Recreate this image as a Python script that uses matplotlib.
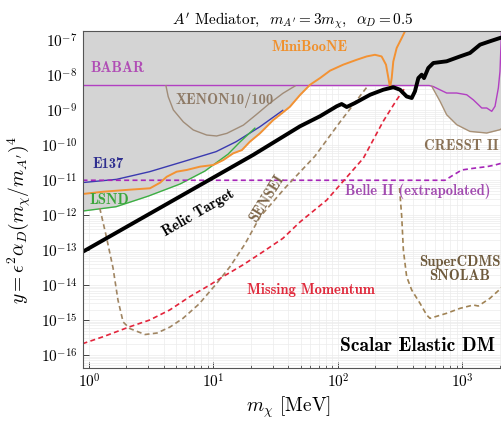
import numpy as np
import matplotlib
matplotlib.use('Agg')
import matplotlib.pyplot as plt
from matplotlib.ticker import LogLocator, NullFormatter

plt.rcParams['font.family'] = 'serif'
plt.rcParams['font.serif'] = ['cmr10']
plt.rcParams['mathtext.fontset'] = 'cm'
plt.rcParams['axes.formatter.use_mathtext'] = True

# --- curves (m_chi in MeV, y) ---
relic_m = [0.887, 20.8, 49.5, 71.7, 97.6, 107, 117.5, 137, 181, 231, 278, 315, 356, 391,
           415, 442, 470, 491, 531, 583, 746, 955, 1149, 1383, 1662, 2000, 2115]
relic_y = [8.9e-14, 5.3e-11, 3.5e-10, 6.8e-10, 1.31e-9, 1.52e-9, 1.25e-9, 1.63e-9, 2.8e-9,
           3.9e-9, 4.6e-9, 3.9e-9, 2.5e-9, 2.26e-9, 3.5e-9, 8.4e-9, 1.05e-8, 8.4e-9, 1.63e-8,
           2.27e-8, 2.54e-8, 3.5e-8, 4.4e-8, 7.6e-8, 9.5e-8, 1.18e-7, 1.25e-7]

babar_m = [0.887, 540, 583, 746, 898, 1081, 1222, 1340, 1428, 1566, 1718, 1825, 1941, 2000, 2060]
babar_y = [5.15e-9, 5.15e-9, 4.8e-9, 3.14e-9, 3.14e-9, 2.8e-9, 2.0e-9, 1.46e-9, 1.17e-9,
           1.17e-9, 9.4e-10, 1.31e-9, 4.4e-9, 1.3e-8, 2e-7]

miniboone_m = [0.889, 1.30, 2.01, 3.09, 3.72, 4.21, 5.06, 6.09, 7.79, 9.96, 12.0, 14.4, 16.9,
               19.6, 23.6, 30.2, 35.3, 41.1, 49.5, 59.6, 71.7, 86.3, 110, 141, 170, 198, 224,
               243, 254, 262, 270, 278, 296, 325, 356]
miniboone_y = [4.05e-12, 4.7e-12, 5.3e-12, 5.9e-12, 8.5e-12, 1.26e-11, 1.76e-11, 1.97e-11,
               2.45e-11, 2.74e-11, 3.8e-11, 5.9e-11, 7.3e-11, 1.27e-10, 2.2e-10, 5.3e-10,
               8.2e-10, 1.27e-9, 2.75e-9, 5.4e-9, 8.4e-9, 1.37e-8, 2.03e-8, 2.8e-8, 3.5e-8,
               3.9e-8, 3.5e-8, 2.03e-8, 8.4e-9, 4.4e-9, 8.4e-9, 2.5e-8, 6.1e-8, 1.18e-7, 2.3e-7]

e137_m = [0.889, 1.66, 3.07, 5.69, 10.5, 15.2, 23.6, 36.0]
e137_y = [8.6e-12, 1.06e-11, 1.76e-11, 3.4e-11, 6.6e-11, 1.27e-10, 3.4e-10, 1.0e-9]

lsnd_m = [0.895, 1.65, 2.98, 5.38, 8.54, 13.1, 16.3, 21.5]
lsnd_y = [1.32e-12, 1.75e-12, 3.5e-12, 7.8e-12, 1.84e-11, 5.6e-11, 1.24e-10, 3.1e-10]

xenon_m = [4.15, 4.33, 4.76, 5.72, 6.88, 8.82, 10.6, 12.8, 17.4, 21.9, 28.5, 36.2, 45.2]
xenon_y = [5.1e-9, 2.46e-9, 1.03e-9, 4.7e-10, 2.75e-10, 1.97e-10, 1.85e-10, 2.2e-10,
           3.8e-10, 7.4e-10, 1.63e-9, 3.1e-9, 5.0e-9]

cresst_m = [566, 660, 746, 898, 1148, 1564, 2000, 2115]
cresst_y = [4.9e-9, 1.82e-9, 7.5e-10, 3.9e-10, 2.5e-10, 2.25e-10, 2.8e-10, 3.2e-10]

belle_m = [0.887, 723, 819, 986, 1222, 1566, 1825, 2038, 2115]
belle_y = [1.0e-11, 1.0e-11, 1.32e-11, 1.97e-11, 2.2e-11, 2.45e-11, 2.73e-11, 3.05e-11, 3.1e-11]

sensei_m = [1.22, 1.37, 1.56, 1.71, 1.88, 2.13, 2.82, 3.52, 4.47, 5.69, 7.65, 10.5, 13.6,
            17.9, 23.6, 37.5, 65.3, 103.8, 172.7]
sensei_y = [1.61e-12, 2.7e-13, 3.1e-14, 3.7e-15, 8.8e-16, 5.7e-16, 3.85e-16, 4.25e-16,
            6.3e-16, 1.12e-15, 2.87e-15, 1.07e-14, 3.4e-14, 1.5e-13, 8.9e-13, 6.0e-12,
            4.9e-11, 4.65e-10, 4.9e-9]

missing_m = [0.887, 1.29, 2.12, 3.07, 4.45, 6.44, 9.31, 11.9, 17.2, 25.0, 36.1, 49.5, 81.1,
             160, 231, 296, 345]
missing_y = [2.1e-16, 3.3e-16, 6.4e-16, 1.0e-15, 1.94e-15, 4.65e-15, 1.0e-14, 1.74e-14,
             3.76e-14, 9.0e-14, 2.18e-13, 6.4e-13, 2.7e-12, 4.3e-11, 4.9e-10, 2.0e-9, 4.4e-9]

cdms_m = [312, 325, 335, 356, 391, 456, 516, 548, 746, 955, 1222, 1340, 1662, 2038, 2115]
cdms_y = [6.0e-12, 9.1e-13, 1.01e-13, 1.74e-14, 7.2e-15, 3.0e-15, 1.39e-15, 1.12e-15,
          1.56e-15, 2.16e-15, 2.69e-15, 2.52e-15, 4.2e-15, 8.1e-15, 9.5e-15]

x_lo, x_hi = 0.887, 2115
y_lo, y_hi = 4.24e-17, 1.87e-7

fig = plt.figure(figsize=(5.01, 4.21), dpi=100)
ax = fig.add_axes([82.5 / 501, 1 - 368 / 421, (503 - 82.5) / 501, 337 / 421])
ax.set_xscale('log')
ax.set_yscale('log')
ax.set_xlim(x_lo, x_hi)
ax.set_ylim(y_lo, y_hi)


def log_interp(grid, m, y):
    out = np.interp(np.log10(grid), np.log10(m), np.log10(y), left=np.inf, right=np.inf)
    return out


# excluded region = above the envelope of all existing limits
grid = np.logspace(np.log10(x_lo), np.log10(x_hi), 3000)
env = np.full_like(grid, np.inf)
for m, y in [(babar_m, babar_y), (miniboone_m, miniboone_y), (e137_m, e137_y),
             (lsnd_m, lsnd_y), (xenon_m, xenon_y), (cresst_m, cresst_y)]:
    env = np.minimum(env, log_interp(grid, m, y))
env = np.where(np.isfinite(env), env, np.log10(y_hi))
ax.fill_between(grid, 10 ** env, y_hi * 2, color='#d4d4d4', lw=0, zorder=1)

ax.plot(babar_m, babar_y, color='#b23fc2', lw=1.0, zorder=3)
ax.plot(xenon_m, xenon_y, color='#a08c78', lw=1.0, zorder=3)
ax.plot(cresst_m, cresst_y, color='#a89075', lw=1.0, zorder=3)
ax.plot(e137_m, e137_y, color='#3a3ab0', lw=1.0, zorder=3)
ax.plot(lsnd_m, lsnd_y, color='#3cb043', lw=1.0, zorder=3)
ax.plot(miniboone_m, miniboone_y, color='#f39233', lw=1.4, zorder=4)
ax.plot(belle_m, belle_y, color='#a626b8', lw=1.2, ls=(0, (3, 2)), zorder=3)
ax.plot(sensei_m, sensei_y, color='#a08562', lw=1.2, ls=(0, (3, 2)), zorder=3)
ax.plot(cdms_m, cdms_y, color='#a08355', lw=1.2, ls=(0, (3, 2)), zorder=3)
ax.plot(missing_m, missing_y, color='#e3243b', lw=1.2, ls=(0, (3, 2)), zorder=3)
ax.plot(relic_m, relic_y, color='black', lw=2.8, zorder=5)

lab = dict(family='cmb10', fontsize=10.5, zorder=6)
ax.text(1.02, 1.63e-8, 'BABAR', color='#b04db5', ha='left', va='center', **lab)
ax.text(59.6, 6.5e-8, 'MiniBooNE', color='#f0902c', ha='center', va='center', **lab)
ax.text(12.4, 1.98e-9, 'XENON10/100', color='#8e7a66', ha='center', va='center', **lab)
ax.text(1.06, 2.9e-11, 'E137', color='#2f2f8f', ha='left', va='center', **lab)
ax.text(1.01, 2.7e-12, 'LSND', color='#3aa63a', ha='left', va='center', **lab)
ax.text(7.5, 1.16e-12, 'Relic Target', color='black', ha='center', va='center',
        rotation=30, **lab)
ax.text(26.9, 3.1e-12, 'SENSEI', color='#7d6548', ha='center', va='center',
        rotation=58, **lab)
ax.text(60.7, 7.2e-15, 'Missing Momentum', color='#e02a3c', ha='center', va='center', **lab)
ax.text(1963, 9.6e-11, 'CRESST II', color='#8a7256', ha='right', va='center', **lab)
ax.text(435, 4.7e-12, 'Belle II (extrapolated)', color='#a24cb0', ha='center',
        va='center', **lab)
ax.text(955, 2.8e-14, 'SuperCDMS\nSNOLAB', color='#6e5a3c', ha='center', va='center',
        linespacing=1.0, **lab)
ax.text(1824, 1.84e-16, 'Scalar Elastic DM', color='black', ha='right', va='center',
        family='cmb10', fontsize=14, zorder=6)

ax.set_title(r"$A'$ Mediator,  $m_{A'} = 3m_\chi$,  $\alpha_D = 0.5$", fontsize=11, pad=5)
ax.set_xlabel(r'$m_\chi$ [MeV]', fontsize=14)
ax.set_ylabel(r"$y = \epsilon^2\alpha_D(m_\chi/m_{A'})^4$", fontsize=14)
ax.xaxis.set_label_coords(0.49, -0.08)
ax.yaxis.set_label_coords(-0.118, 0.44)

ax.yaxis.set_major_locator(LogLocator(base=10, numticks=20))
ax.yaxis.set_minor_locator(LogLocator(base=10, subs=np.arange(2, 10), numticks=20))
ax.yaxis.set_minor_formatter(NullFormatter())
ax.tick_params(which='both', direction='in', colors='#444444', labelcolor='black',
               labelsize=11)
ax.tick_params(which='major', length=4, width=0.7)
ax.tick_params(axis='x', which='minor', length=2.5, width=0.6)
ax.tick_params(axis='y', which='minor', length=0)
ax.grid(which='both', color='#ececec', lw=0.5, zorder=0)
ax.set_axisbelow(True)
for s in ax.spines.values():
    s.set_color('#555555')
    s.set_linewidth(0.8)
    s.set_zorder(7)

fig.savefig('out.png', dpi=100)
